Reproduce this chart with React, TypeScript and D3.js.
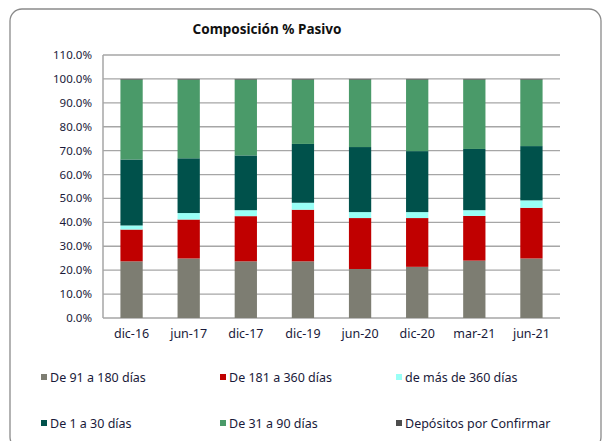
import React from "react";
import * as d3 from "d3";

const categories = ["dic-16", "jun-17", "dic-17", "dic-19", "jun-20", "dic-20", "mar-21", "jun-21"];
const seriesNames = ["De 91 a 180 días", "De 181 a 360 días", "de más de 360 días", "De 1 a 30 días", "De 31 a 90 días", "Depósitos por Confirmar"];
const seriesColors = ["#7d7d72", "#c00000", "#99fff6", "#00514b", "#4a9a69", "#4d4d4d"];
const s91a180 = [23.7, 24.9, 23.7, 23.7, 20.5, 21.4, 24.0, 24.9];
const s181a360 = [13.3, 16.3, 18.9, 21.6, 21.3, 20.4, 18.7, 21.2];
const sMas360 = [1.7, 2.7, 2.5, 2.9, 2.5, 2.5, 2.4, 3.1];
const s1a30 = [27.6, 22.9, 22.9, 24.6, 27.2, 25.5, 25.6, 22.7];
const s31a90 = [33.4, 32.9, 31.7, 26.9, 28.2, 29.9, 29.0, 27.8];
const sDepositos = [0.3, 0.3, 0.3, 0.3, 0.3, 0.3, 0.3, 0.3];
const yTicks = [0, 10, 20, 30, 40, 50, 60, 70, 80, 90, 100, 110];

const FONT = "'Noto Sans', 'DejaVu Sans', sans-serif";

export default function App() {
  const W = 603, H = 441;
  const left = 103, right = 560, top = 55, bottom = 318;
  const series = [s91a180, s181a360, sMas360, s1a30, s31a90, sDepositos];
  const table = categories.map((c, i) => {
    const row: any = { cat: c };
    seriesNames.forEach((n, k) => (row[n] = series[k][i]));
    return row;
  });
  const stack = d3.stack().keys(seriesNames)(table as any);
  const x = d3.scaleBand().domain(categories).range([left, right]).paddingInner(0.61).paddingOuter(0.305);
  const y = d3.scaleLinear().domain([0, 110]).range([bottom, top]);

  const legendPos = [
    [41, 378], [220, 378], [396, 378],
    [41, 424], [220, 424], [396, 424],
  ];
  const legendOrder = [0, 1, 2, 3, 4, 5];

  return (
    <svg width={W} height={H} style={{ position: "absolute", left: 0, top: 0 }} fontFamily={FONT}>
      <rect x={10} y={9} width={591} height={440} rx={12} fill="#fff" stroke="#8a8a8a" strokeWidth={1.3} />
      <text x={267} y={34} textAnchor="middle" fontSize={13.5} fontWeight="bold" fill="#111">
        Composición % Pasivo
      </text>
      {yTicks.map((t) => (
        <g key={t}>
          <line x1={left} x2={right} y1={y(t)} y2={y(t)} stroke="#a6a6a6" strokeWidth={1.3} />
          <text x={92} y={y(t)} dy="0.35em" textAnchor="end" fontSize={11.5} fill="#1a1a3a">
            {t.toFixed(1)}%
          </text>
        </g>
      ))}
      <line x1={left} x2={left} y1={top} y2={bottom} stroke="#a6a6a6" strokeWidth={1.5} />
      {stack.map((layer, k) =>
        layer.map((d, i) => (
          <rect
            key={k + "-" + i}
            x={x(categories[i])!}
            y={y(d[1])}
            width={x.bandwidth()}
            height={Math.max(0, y(d[0]) - y(d[1]))}
            fill={seriesColors[k]}
          />
        ))
      )}
      {categories.map((c) => (
        <text key={c} x={x(c)! + x.bandwidth() / 2} y={338} textAnchor="middle" fontSize={12.5} fill="#1a1a3a">
          {c}
        </text>
      ))}
      {legendOrder.map((k, j) => (
        <g key={k}>
          <rect x={legendPos[j][0]} y={legendPos[j][1] - 4} width={6} height={6} fill={seriesColors[k]} />
          <text x={legendPos[j][0] + 9} y={legendPos[j][1]} dy="0.35em" fontSize={12.5} fill="#1a1a3a">
            {seriesNames[k]}
          </text>
        </g>
      ))}
    </svg>
  );
}
